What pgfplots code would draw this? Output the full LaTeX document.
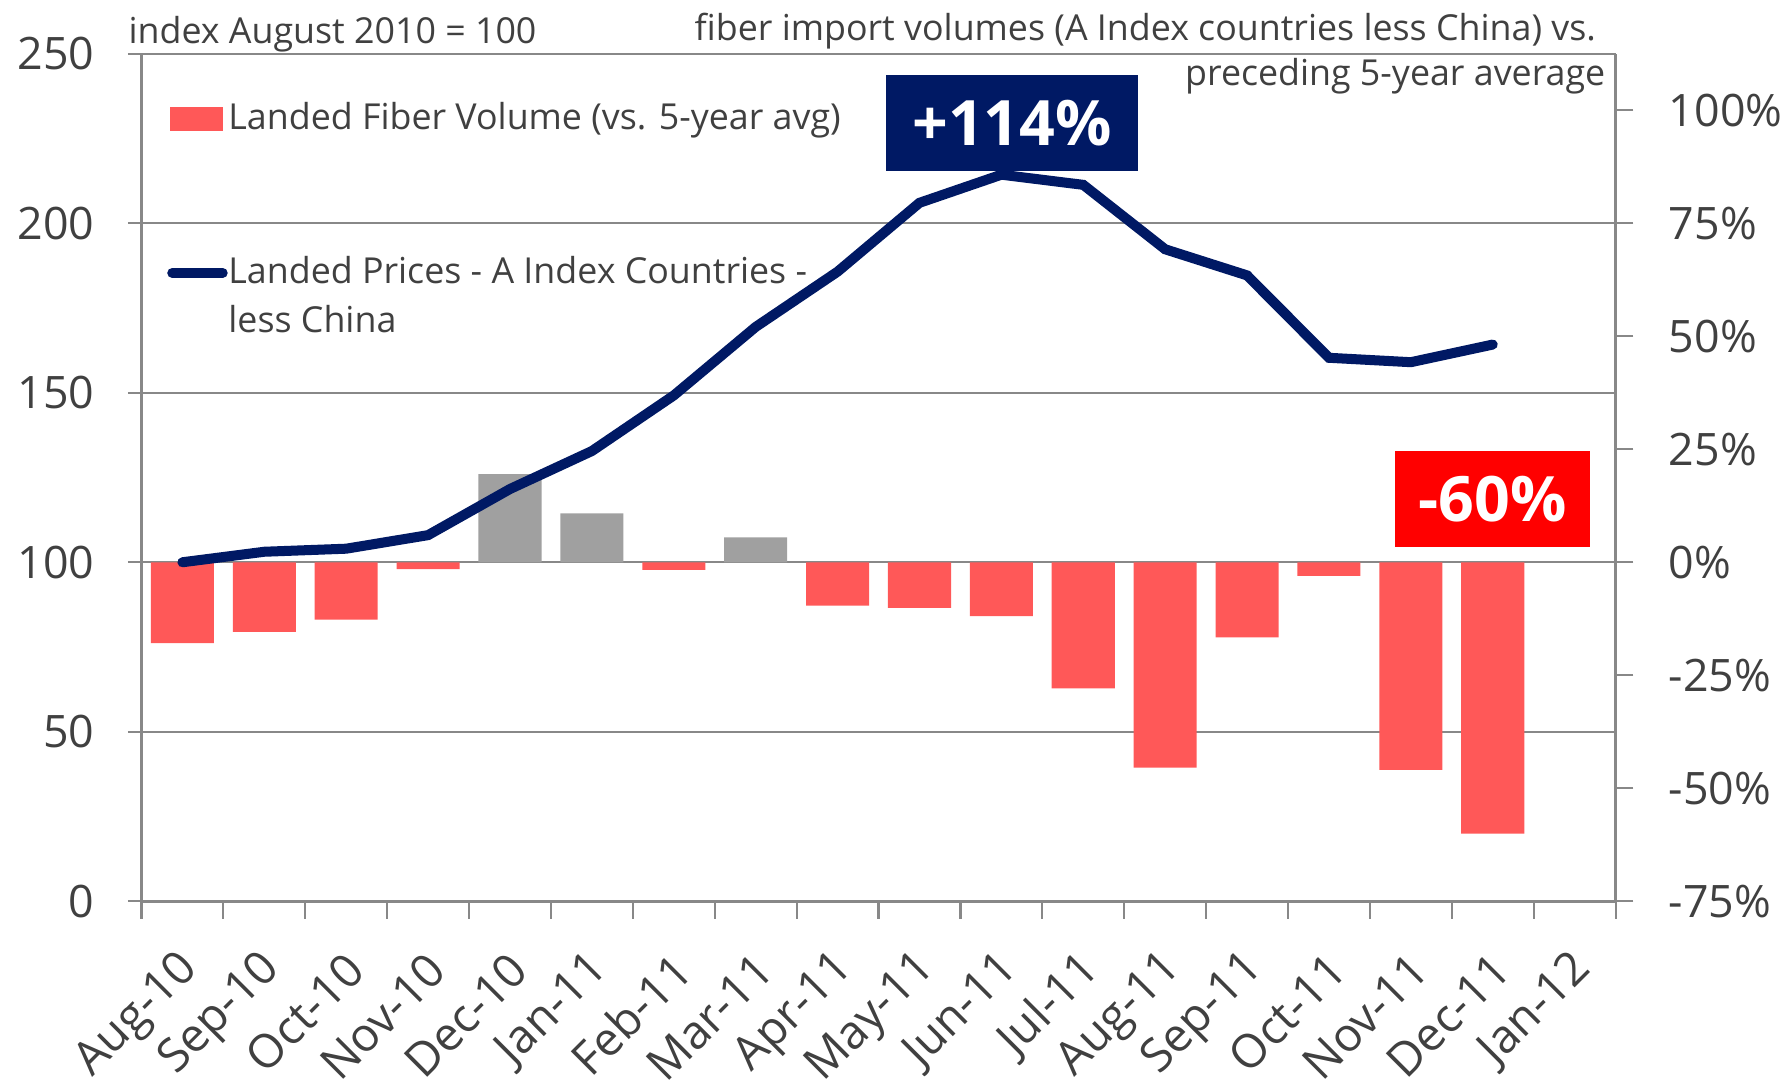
\documentclass[border=0pt]{standalone}
\usepackage{fontspec}
\setmainfont{Open Sans}
\usepackage{pgfplots}
\pgfplotsset{compat=1.18}
\definecolor{navy}{RGB}{0,25,100}
\definecolor{barred}{RGB}{255,88,88}
\definecolor{bargray}{RGB}{160,160,160}
\definecolor{annred}{RGB}{255,0,0}
\definecolor{textgray}{RGB}{64,64,64}
\definecolor{gridc}{RGB}{136,136,136}
\begin{document}
\begin{tikzpicture}
\useasboundingbox (-39.54pt,-52.93pt) rectangle (460.47pt,251.92pt);
\pgfplotsset{
  common/.style={
    at={(0pt,0pt)}, anchor=south west,
    scale only axis, width=412pt, height=236.93pt,
    xmin=-0.5, xmax=17.5,
    clip=false,
  }
}
% left axis with grid
\begin{axis}[common,
  ymin=0, ymax=250,
  axis x line*=bottom, axis y line*=left,
  axis line style={-, draw=gridc, line width=0.7pt},
  ytick={0,50,100,150,200,250},
  yticklabels={0,50,100,150,200,250},
  ymajorgrids, grid style={draw=gridc, line width=0.6pt},
  tick align=outside,
  major tick length=3.8pt,
  minor tick length=4.8pt,
  tick style={draw=gridc, line width=0.6pt},
  xtick={0,...,17},
  xticklabels={Aug-10,Sep-10,Oct-10,Nov-10,Dec-10,Jan-11,Feb-11,Mar-11,Apr-11,May-11,Jun-11,Jul-11,Aug-11,Sep-11,Oct-11,Nov-11,Dec-11,Jan-12},
  major x tick style={draw=none},
  minor xtick={-0.5,0.5,...,17.5},
  xticklabel style={rotate=45, anchor=east, inner sep=0pt, font=\fontsize{13}{15}\selectfont, text=textgray, xshift=-7.4pt, yshift=-11.1pt},
  yticklabel style={anchor=east, inner sep=0pt, font=\fontsize{12.5}{15}\selectfont, text=textgray, xshift=-9.2pt},
]
\end{axis}
% right axis with bars
\begin{axis}[common,
  ymin=-75, ymax=112.5,
  axis x line=none, axis y line*=right,
  axis line style={-, draw=gridc, line width=0.7pt},
  ytick={-75,-50,-25,0,25,50,75,100},
  yticklabels={-75\%,-50\%,-25\%,0\%,25\%,50\%,75\%,100\%},
  tick align=outside,
  major tick length=5pt,
  tick style={draw=gridc, line width=0.6pt},
  yticklabel style={anchor=west, inner sep=0pt, font=\fontsize{12.5}{15}\selectfont, text=textgray, xshift=9.7pt},
]
\addplot[ybar, bar width=0.77, fill=barred, draw=none] coordinates {
  (0,-17.9) (1,-15.4) (2,-12.7) (3,-1.5) (6,-1.7) (8,-9.6) (9,-10.1)
  (10,-11.9) (11,-27.9) (12,-45.4) (13,-16.6) (14,-3.0) (15,-45.9) (16,-60.0)};
\addplot[ybar, bar width=0.77, fill=bargray, draw=none] coordinates {
  (4,19.5) (5,10.8) (7,5.5)};
\end{axis}
% line axis
\begin{axis}[common,
  ymin=0, ymax=250,
  hide axis,
  legend cell align=left,
  legend style={at={(0.0170,0.943)}, anchor=north west, draw=none, fill=none,
    inner sep=0pt, row sep=33.8pt, column sep=0.2pt,
    font=\fontsize{10}{13.7}\selectfont, text=textgray,
    nodes={inner sep=0pt}, cells={align=left}},
]
\addlegendimage{legend image code/.code={\fill[barred] (0pt,-3.2pt) rectangle (14.4pt,3.2pt);}}
\addlegendentry{Landed Fiber Volume (vs. 5-year avg)}
\addplot[navy, line width=2.8pt, line cap=round, mark=none,
  legend image code/.code={\draw[navy, line width=2.8pt, line cap=round] (0.3pt,6.7pt) -- (14.4pt,6.7pt);}]
  coordinates {
  (0,100) (1,103.1) (2,104.0) (3,108.0) (4,121.6) (5,132.8) (6,149.2) (7,169.4)
  (8,185.7) (9,206.0) (10,214.3) (11,211.3) (12,192.3) (13,184.6) (14,160.3)
  (15,159.0) (16,164.2)};
\addlegendentry{Landed Prices - A Index Countries -\\less China}
\node[fill=navy, text=white, font=\bfseries\fontsize{17.5}{20}\selectfont,
  minimum width=70.5pt, minimum height=27pt, inner sep=0pt] at (axis cs:10.13,229.5) {+114\%};
\node[fill=annred, text=white, font=\bfseries\fontsize{17.5}{20}\selectfont,
  minimum width=54.5pt, minimum height=27pt, inner sep=0pt] at (axis cs:16.0,118.6) {-60\%};
\end{axis}
\node[anchor=base west, inner sep=0pt, text=textgray, font=\fontsize{10}{12}\selectfont] at (-3.8pt,239.8pt) {index August 2010 = 100};
\node[anchor=base east, inner sep=0pt, text=textgray, font=\fontsize{10}{12}\selectfont] at (406.7pt,240.5pt) {fiber import volumes (A Index countries less China) vs.};
\node[anchor=base east, inner sep=0pt, text=textgray, font=\fontsize{10}{12}\selectfont] at (409.3pt,228.1pt) {preceding 5-year average};
\end{tikzpicture}
\end{document}
